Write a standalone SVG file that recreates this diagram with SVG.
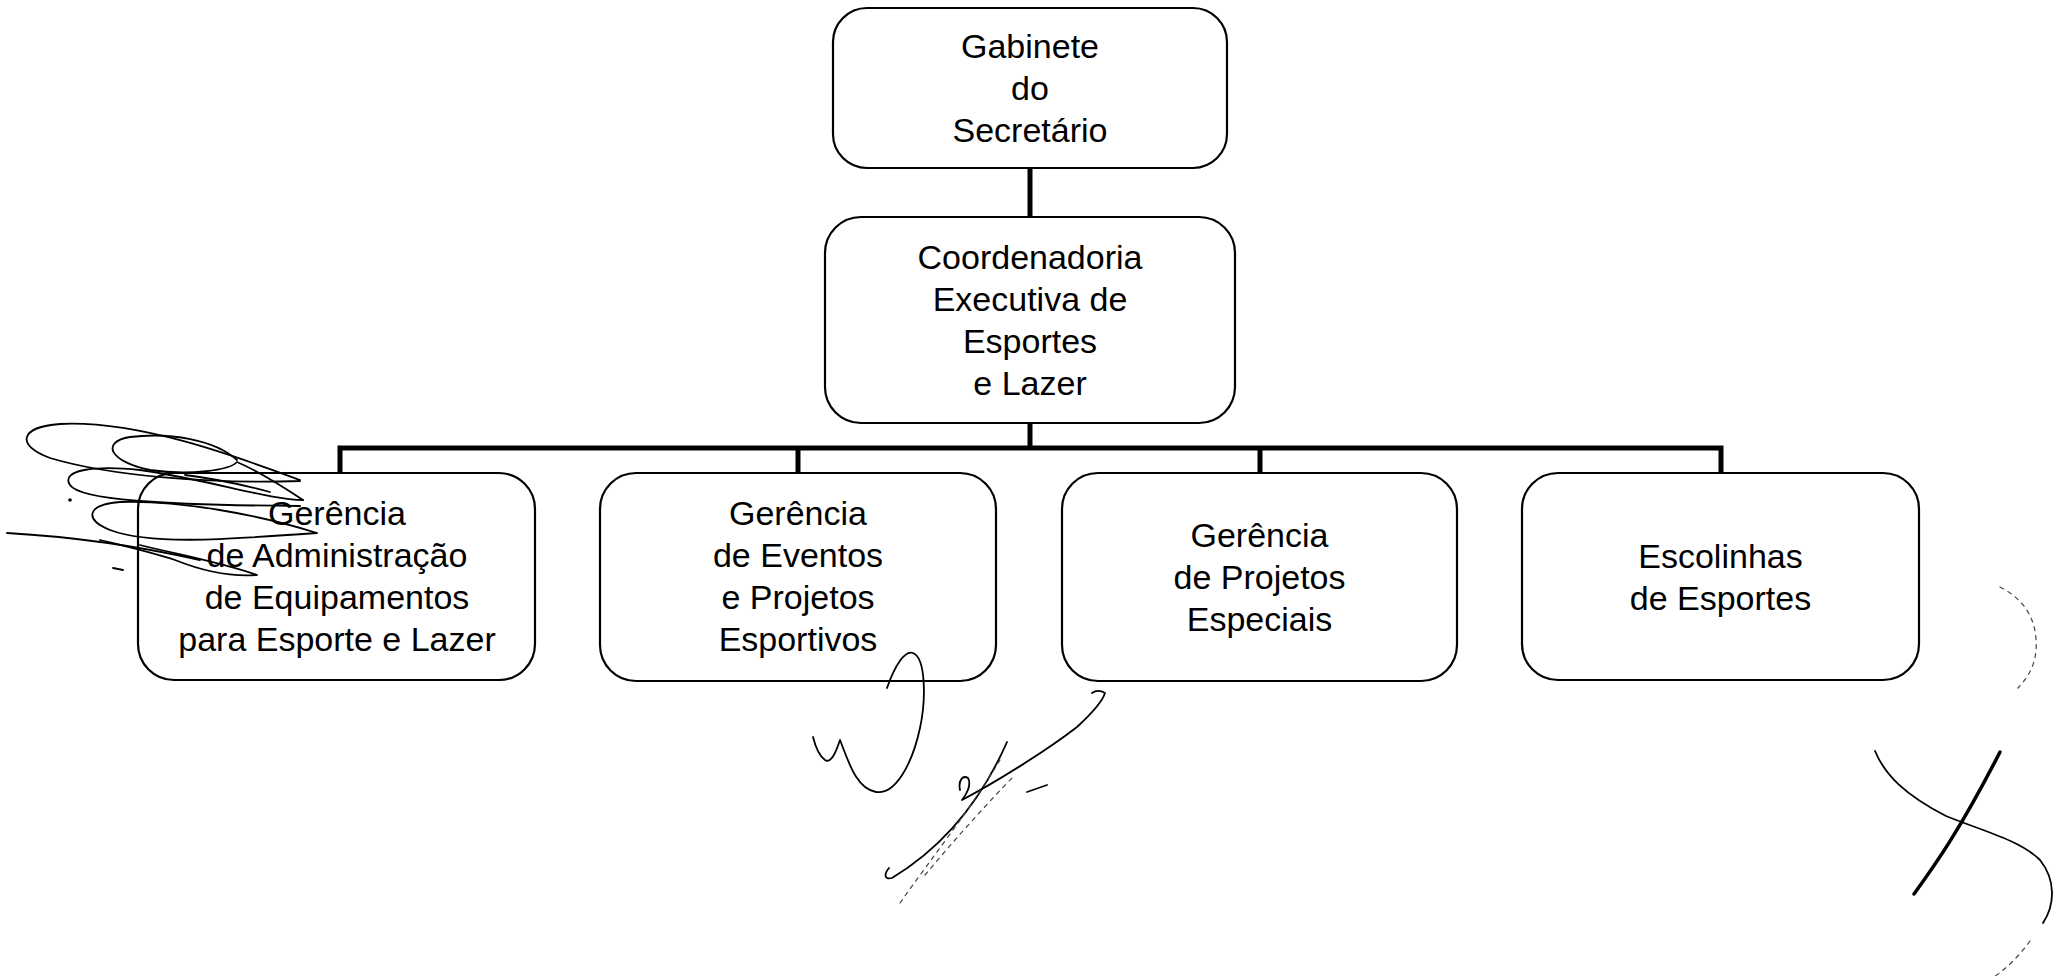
<svg xmlns="http://www.w3.org/2000/svg" width="2060" height="976" viewBox="0 0 2060 976">
<style>
.box{fill:#fff;stroke:#000;stroke-width:2.2}
.lbl{font-family:"Liberation Sans",Arial,sans-serif;font-size:34px;text-anchor:middle;fill:#000}
.conn{stroke:#000;stroke-width:5;fill:none;stroke-linejoin:miter;stroke-linecap:butt}
.ink{fill:none;stroke:#000;stroke-width:1.8;stroke-linecap:round;stroke-linejoin:round}
.thick{fill:none;stroke:#000;stroke-width:3.5;stroke-linecap:round}
.faint{fill:none;stroke:#444;stroke-width:1.2;stroke-dasharray:4 5;stroke-linecap:round}
</style>
<rect width="2060" height="976" fill="#fff"/>
<g id="connectors">
<path class="conn" d="M1030,168 V217"/>
<path class="conn" d="M1030,423 V448"/>
<path class="conn" d="M340,473 V448 H1721 V473"/>
<path class="conn" d="M798,448 V473"/>
<path class="conn" d="M1260,448 V473"/>
</g>
<g id="gabinete">
<rect class="box" x="833" y="8" width="394" height="160" rx="34"/>
<text class="lbl" x="1030" y="58">Gabinete</text>
<text class="lbl" x="1030" y="100">do</text>
<text class="lbl" x="1030" y="142">Secretário</text>
</g>
<g id="coordenadoria">
<rect class="box" x="825" y="217" width="410" height="206" rx="36"/>
<text class="lbl" x="1030" y="269">Coordenadoria</text>
<text class="lbl" x="1030" y="311">Executiva de</text>
<text class="lbl" x="1030" y="353">Esportes</text>
<text class="lbl" x="1030" y="395">e Lazer</text>
</g>
<g id="gerencia-administracao">
<rect class="box" x="138" y="473" width="397" height="207" rx="36"/>
<text class="lbl" x="337" y="525">Gerência</text>
<text class="lbl" x="337" y="567">de Administração</text>
<text class="lbl" x="337" y="609">de Equipamentos</text>
<text class="lbl" x="337" y="651">para Esporte e Lazer</text>
</g>
<g id="gerencia-eventos">
<rect class="box" x="600" y="473" width="396" height="208" rx="36"/>
<text class="lbl" x="798" y="525">Gerência</text>
<text class="lbl" x="798" y="567">de Eventos</text>
<text class="lbl" x="798" y="609">e Projetos</text>
<text class="lbl" x="798" y="651">Esportivos</text>
</g>
<g id="gerencia-projetos">
<rect class="box" x="1062" y="473" width="395" height="208" rx="36"/>
<text class="lbl" x="1259.5" y="547">Gerência</text>
<text class="lbl" x="1259.5" y="589">de Projetos</text>
<text class="lbl" x="1259.5" y="631">Especiais</text>
</g>
<g id="escolinhas">
<rect class="box" x="1522" y="473" width="397" height="207" rx="36"/>
<text class="lbl" x="1720.5" y="568">Escolinhas</text>
<text class="lbl" x="1720.5" y="610">de Esportes</text>
</g>
<g id="handwriting">
<path class="ink" d="M300,480 C240,458 140,420 60,424 C20,427 15,445 50,458 C110,476 210,484 300,481"/>
<path class="ink" d="M237,460 C215,440 170,432 130,437 C100,442 110,462 150,470 C190,476 230,470 237,462 C260,472 285,488 303,500"/>
<path class="ink" d="M303,500 C270,500 210,480 140,470 C95,465 60,470 70,485 C80,500 160,505 300,506"/>
<path class="ink" d="M317,533 C260,515 180,500 120,502 C85,505 85,520 110,530 C150,545 220,540 317,533"/>
<path class="ink" d="M140,545 C180,555 220,562 257,575 C230,577 200,570 175,560 C150,552 120,545 100,540"/>
<path class="ink" d="M7,533 C60,536 120,542 200,560"/>
<path class="ink" d="M185,475 C210,478 240,484 270,492"/>
<circle cx="70" cy="500" r="1.8" fill="#000"/>
<path class="ink" d="M113,568 L123,570"/>
<path class="ink" d="M887,688 C895,665 905,650 913,653 C926,658 926,700 920,728 C912,765 895,795 876,792 C856,789 848,760 840,740 C836,752 831,764 825,760 C818,755 815,745 813,737"/>
<path class="ink" d="M889,868 C884,874 884,880 892,878 C930,855 975,815 1007,742"/>
<path class="ink" d="M960,790 C958,780 963,775 968,778 C972,785 966,795 962,800 C1000,780 1050,748 1077,727 C1090,715 1102,703 1105,693 C1100,690 1095,691 1092,693"/>
<path class="faint" d="M900,903 C930,860 970,810 1000,760"/>
<path class="faint" d="M925,875 C950,845 990,800 1015,775"/>
<path class="ink" d="M1027,792 L1047,785"/>
<path class="thick" d="M1914,894 C1935,865 1960,830 2000,752"/>
<path class="ink" d="M1875,751 C1885,775 1905,795 1946,816 C1980,830 2020,840 2040,860 C2056,880 2055,905 2043,923"/>
<path class="faint" d="M2030,941 C2020,955 2005,970 1995,976"/>
<path class="faint" d="M2000,587 C2025,600 2038,620 2036,651 C2034,670 2025,680 2018,688"/>
</g>
</svg>
